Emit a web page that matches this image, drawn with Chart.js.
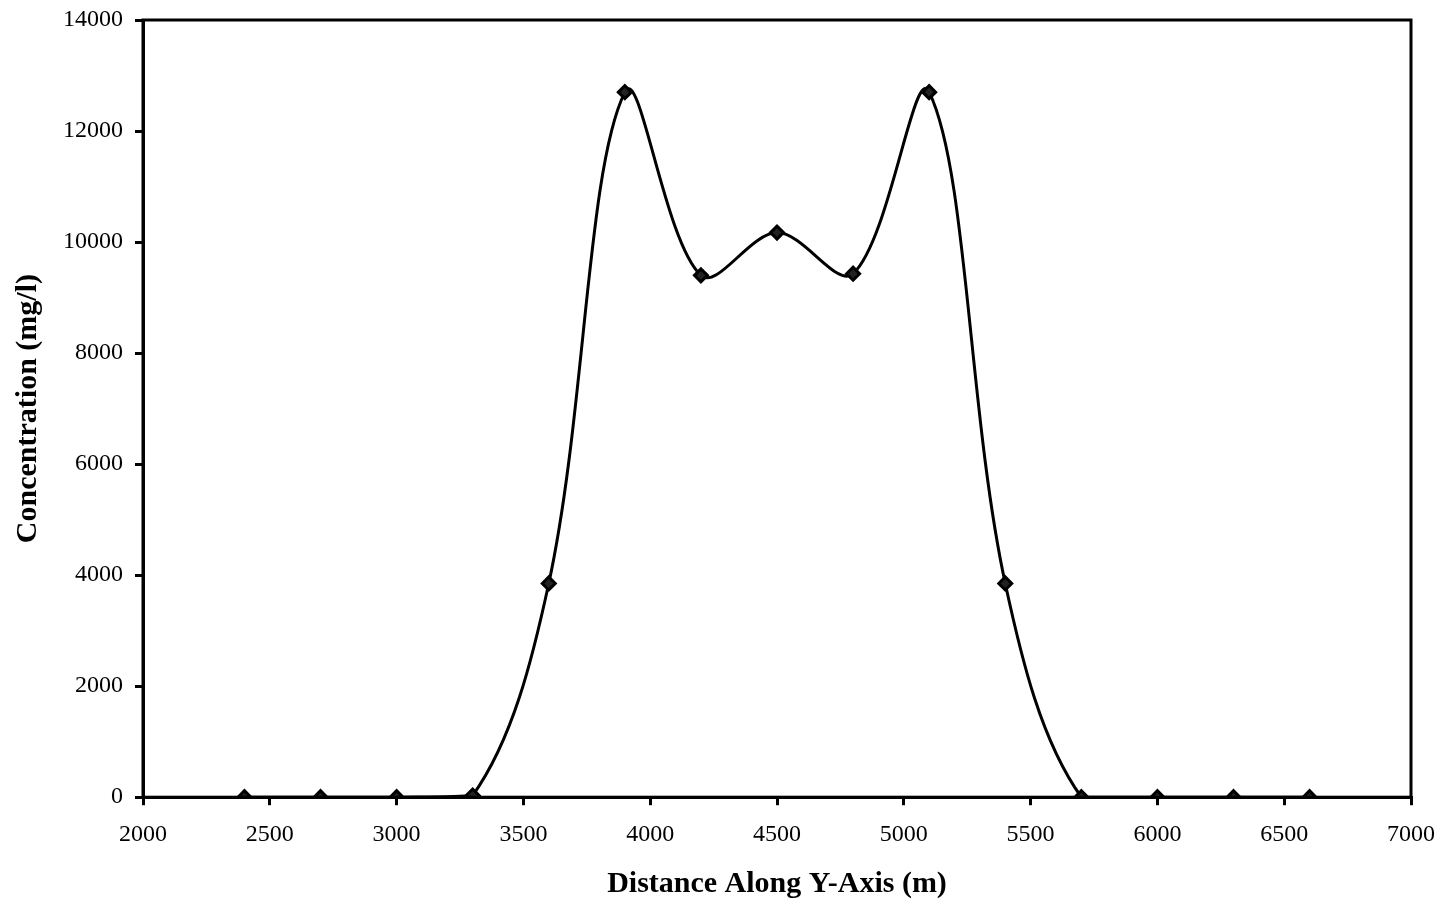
<!DOCTYPE html>
<html lang="en">
<head>
    <title>Concentration Along Y-Axis</title>
    <script src="https://cdn.jsdelivr.net/npm/chart.js"></script>
    <style>
        html, body { margin: 0; padding: 0; background: #fff; }
        #wrap { width: 1444px; height: 908px; }
    </style>
</head>
<body>
<div id="wrap">
    <canvas id="concChart"></canvas>
</div>

<script>
    // values
    const distances = [2400, 2700, 3000, 3300, 3600, 3900, 4200, 4500, 4800, 5100, 5400, 5700, 6000, 6300, 6600];
    const concentrations = [0, 0, 0, 30, 3850, 12700, 9400, 10170, 9430, 12700, 3850, 0, 0, 0, 0];
    const xTicks = [2000, 2500, 3000, 3500, 4000, 4500, 5000, 5500, 6000, 6500, 7000];
    const yTicks = [0, 2000, 4000, 6000, 8000, 10000, 12000, 14000];

    const points = distances.map((d, i) => ({ x: d, y: concentrations[i] }));

    // box round the plot area
    const frame = {
        id: 'frame',
        afterDraw(chart) {
            const a = chart.chartArea;
            const c = chart.ctx;
            c.save();
            c.strokeStyle = '#000';
            c.lineWidth = 3;
            c.strokeRect(a.left, a.top, a.right - a.left, a.bottom - a.top);
            c.restore();
        }
    };

    const serif = '"Liberation Serif", "Times New Roman", serif';

    new Chart(document.getElementById('concChart'), {
        type: 'line',
        data: {
            datasets: [{
                data: points,
                borderColor: '#000',
                backgroundColor: '#000',
                borderWidth: 3,
                tension: 0.35,
                pointStyle: 'rectRot',
                pointRadius: 6.5,
                pointBorderColor: '#000',
                pointBackgroundColor: '#222',
                fill: false
            }]
        },
        options: {
            responsive: true,
            maintainAspectRatio: false,
            animation: false,
            layout: { padding: { top: 20, right: 33, bottom: 4, left: 6 } },
            plugins: {
                legend: { display: false },
                tooltip: { enabled: false }
            },
            scales: {
                x: {
                    type: 'linear',
                    min: 2000,
                    max: 7000,
                    afterBuildTicks: axis => { axis.ticks = xTicks.map(v => ({ value: v })); },
                    afterFit: axis => { axis.paddingRight = 0; },
                    grid: { drawOnChartArea: false, color: '#000', lineWidth: 3, tickLength: 8 },
                    border: { color: '#000', width: 3 },
                    ticks: {
                        color: '#000',
                        font: { family: serif, size: 24 },
                        padding: 15,
                        maxRotation: 0,
                        callback: v => String(v)
                    },
                    title: {
                        display: true,
                        text: 'Distance Along Y-Axis (m)',
                        color: '#000',
                        font: { family: serif, size: 30, weight: 'bold' },
                        padding: { top: 2, bottom: 2 }
                    }
                },
                y: {
                    min: 0,
                    max: 14000,
                    afterBuildTicks: axis => { axis.ticks = yTicks.map(v => ({ value: v })); },
                    afterFit: axis => { axis.paddingTop = 0; },
                    grid: { drawOnChartArea: false, color: '#000', lineWidth: 3, tickLength: 8 },
                    border: { color: '#000', width: 3 },
                    ticks: {
                        color: '#000',
                        font: { family: serif, size: 24 },
                        padding: 12,
                        callback: v => String(v)
                    },
                    title: {
                        display: true,
                        text: 'Concentration (mg/l)',
                        color: '#000',
                        font: { family: serif, size: 30, weight: 'bold' },
                        padding: { top: 4, bottom: 5 }
                    }
                }
            }
        },
        plugins: [frame]
    });
</script>
</body>
</html>
